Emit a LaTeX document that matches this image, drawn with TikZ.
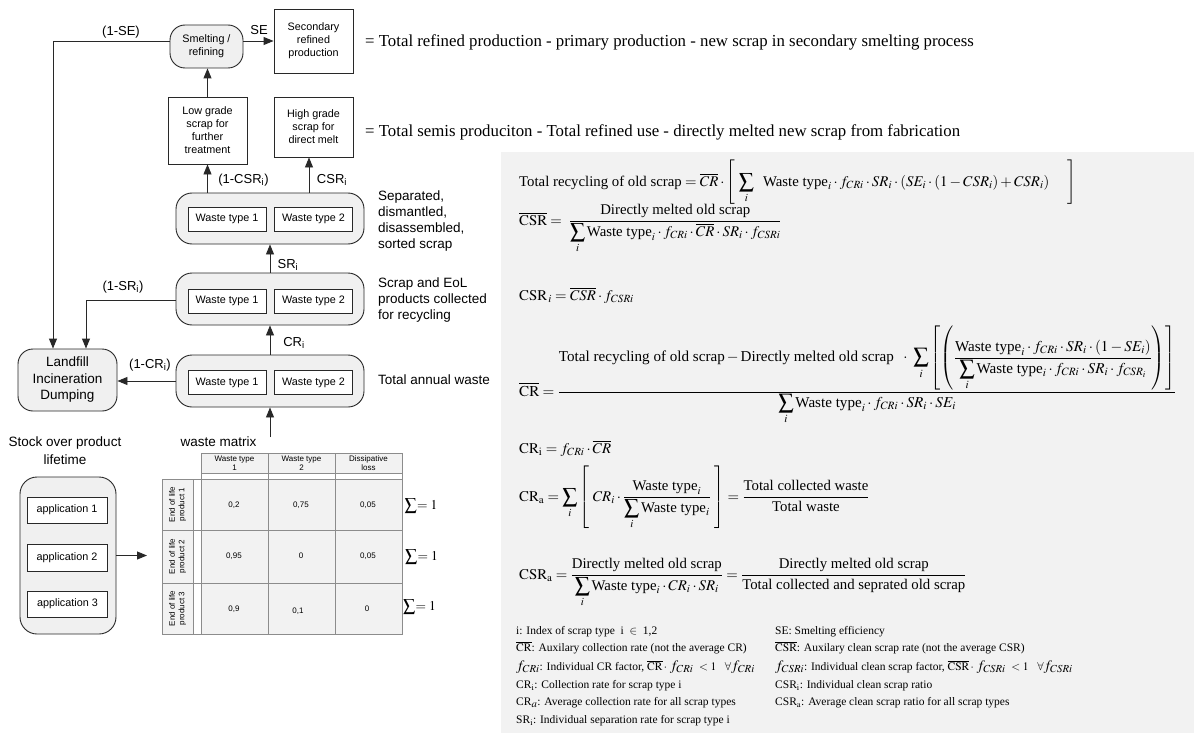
\documentclass[tikz,border=0pt]{standalone}
\usepackage{amsmath}
\usepackage{mathptmx}
\usepackage{fontspec}
\setmainfont{Liberation Serif}
\setsansfont{Liberation Sans}
\usetikzlibrary{arrows.meta}
\definecolor{panel}{RGB}{242,242,242}
\definecolor{boxfill}{RGB}{240,240,240}
\definecolor{edge}{RGB}{40,40,40}
\definecolor{gridc}{RGB}{140,140,140}
\definecolor{cellf}{RGB}{242,242,242}
\newcommand{\lgm}[1]{{\fontsize{14.5}{15}\selectfont$#1$}}
\newcommand{\sumone}{{\fontsize{12}{14}\selectfont$\displaystyle\sum$}{\fontsize{13.5}{15}\selectfont$=1$}}
\tikzset{
  base/.style={draw=edge, line width=0.9pt, inner sep=0pt, align=center, font=\sffamily\fontsize{10.8}{13}\selectfont},
  rbox/.style={base, fill=boxfill, rounded corners=15pt},
  sbox/.style={base, fill=white},
  wbox/.style={base, fill=white, minimum width=78pt, minimum height=24pt},
  arr/.style={draw=edge, line width=0.9pt, -{Triangle[length=10pt,width=8pt]}},
  lbl/.style={font=\sffamily\fontsize{13}{15}\selectfont, inner sep=0pt, align=center},
  side/.style={font=\sffamily\fontsize{13.5}{16}\selectfont, align=left, anchor=west, inner sep=0pt},
  mcell/.style={draw=gridc, line width=1pt, fill=cellf},
  mwhite/.style={draw=gridc, line width=1pt, fill=white},
  mtext/.style={font=\sffamily\fontsize{8}{9.5}\selectfont, align=center, inner sep=0pt},
  sumlbl/.style={inner sep=0pt},
  eq/.style={anchor=base west, inner sep=0pt, font=\fontsize{14.8}{17}\selectfont},
  leg/.style={anchor=base west, inner sep=0pt, font=\fontsize{11.5}{13}\selectfont},
  toptxt/.style={anchor=west, inner sep=0pt, font=\fontsize{16.8}{19}\selectfont}
}
\begin{document}
\begin{tikzpicture}[x=1pt,y=-1pt]
\useasboundingbox (0,0) rectangle (1194,733);
\fill[white] (0,0) rectangle (1194,733);
\fill[panel] (501,152) rectangle (1194,733);

% ---- flow chart ----
\node[rbox, minimum width=73pt, minimum height=43pt] (smelt) at (206.5,46.5) {Smelting /\\refining};
\node[sbox, minimum width=79pt, minimum height=64pt] (secprod) at (313.5,41) {Secondary\\refined\\production};
\node[sbox, minimum width=79pt, minimum height=67pt] (low) at (207.5,130.5) {Low grade\\scrap for\\further\\treatment};
\node[sbox, minimum width=79pt, minimum height=60pt] (high) at (313.5,127) {High grade\\scrap for\\direct melt};

\node[rbox, rounded corners=16pt, minimum width=188pt, minimum height=51pt] (sep) at (270,218.5) {};
\node[wbox] (sep1) at (227,219) {Waste type 1};
\node[wbox] (sep2) at (313.5,219) {Waste type 2};

\node[rbox, rounded corners=16pt, minimum width=188pt, minimum height=52pt] (col) at (270,299) {};
\node[wbox] (col1) at (227,301) {Waste type 1};
\node[wbox] (col2) at (313.5,301) {Waste type 2};

\node[rbox, rounded corners=16pt, minimum width=188pt, minimum height=52pt] (tot) at (270,381) {};
\node[wbox] (tot1) at (227,382.5) {Waste type 1};
\node[wbox] (tot2) at (313.5,382.5) {Waste type 2};

\node[rbox, minimum width=99pt, minimum height=62pt, font=\sffamily\fontsize{13.5}{16.5}\selectfont] (land) at (67.5,380) {Landfill\\Incineration\\Dumping};

\node[rbox, rounded corners=17pt, minimum width=96pt, minimum height=157pt] (stock) at (68,555.5) {};
\node[sbox, minimum width=80pt, minimum height=26pt] (app1) at (67,510) {application 1};
\node[sbox, minimum width=80pt, minimum height=27pt] (app2) at (67,557.5) {application 2};
\node[sbox, minimum width=80pt, minimum height=26pt] (app3) at (67.5,604) {application 3};

% arrows
\coordinate (c1) at (53,41);
\draw[arr] (smelt.west |- c1) -- (c1) -- (c1 |- land.north);
\coordinate (c2) at (86,300);
\draw[arr] (col.west |- c2) -- (c2) -- (c2 |- land.north);
\draw[arr] (tot.west) -- (tot.west -| land.east);
\draw[arr] (smelt.east |- secprod.west) -- (secprod.west);
\draw[arr] (low.north) -- (low.north |- smelt.south);
\draw[arr] (low.south |- sep.north) -- (low.south);
\coordinate (hs) at ([xshift=-4.5pt]high.south);
\draw[arr] (hs |- sep.north) -- (hs);
\draw[arr] (col.north) -- (sep.south);
\draw[arr] (tot.north) -- (col.south);
\coordinate (matin) at (270,437);
\draw[arr] (matin) -- (tot.south);
\coordinate (matL) at (147,555);
\draw[arr] (stock.east) -- (stock.east -| matL);

% labels
\node[lbl] (l1se) at (121,32) {(1-SE)};
\node[lbl] (lse) at (259,30) {SE};
\node[lbl] (lcsr1) at (243.5,180) {(1-CSR\textsubscript{i})};
\node[lbl] (lcsr) at (332,180) {CSR\textsubscript{i}};
\node[lbl] (lsr) at (288,265) {SR\textsubscript{i}};
\node[lbl] (l1sr) at (123,287) {(1-SR\textsubscript{i})};
\node[lbl] (lcr) at (294,343) {CR\textsubscript{i}};
\node[lbl] (l1cr) at (150,365) {(1-CR\textsubscript{i})};

\node[side] (sd1) at (378,221) {Separated,\\dismantled,\\disassembled,\\sorted scrap};
\node[side] (sd2) at (378,300) {Scrap and EoL\\products collected\\for recycling};
\node[side] (sd3) at (378,380) {Total annual waste};

\node[lbl, font=\sffamily\fontsize{13.5}{18}\selectfont] (stocklbl) at (65,451) {Stock over product\\lifetime};
\node[lbl, font=\sffamily\fontsize{13.5}{16}\selectfont] (wm) at (218.5,442) {waste matrix};

\node[toptxt] (t1) at (365,42) {= Total refined production - primary production - new scrap in secondary smelting process};
\node[toptxt] (t2) at (365,132) {= Total semis produciton - Total refined use - directly melted new scrap from fabrication};

% ---- waste matrix ----
\draw[mcell] (201,453) rectangle (268,473);
\draw[mcell] (268,453) rectangle (335,473);
\draw[mcell] (335,453) rectangle (402,473);
\draw[mwhite] (201,473) rectangle (268,479);
\draw[mwhite] (268,473) rectangle (335,479);
\draw[mwhite] (335,473) rectangle (402,479);
\foreach \ya/\yb in {479/530,530/583,583/634}{
  \draw[mcell] (162,\ya) rectangle (193,\yb);
  \draw[mwhite] (193,\ya) rectangle (201,\yb);
  \draw[mcell] (201,\ya) rectangle (268,\yb);
  \draw[mcell] (268,\ya) rectangle (335,\yb);
  \draw[mcell] (335,\ya) rectangle (402,\yb);
}
\node[mtext] (mh1) at (234.5,463) {Waste type\\1};
\node[mtext] (mh2) at (301.5,463) {Waste type\\2};
\node[mtext] (mh3) at (368.5,463) {Dissipative\\loss};
\node[mtext, rotate=90] (mr1) at (177.5,504.5) {End of life\\product 1};
\node[mtext, rotate=90] (mr2) at (177.5,556.5) {End of life\\product 2};
\node[mtext, rotate=90] (mr3) at (177.5,608.5) {End of life\\product 3};
\node[mtext] (m11) at (234,505) {0,2};
\node[mtext] (m12) at (301,505) {0,75};
\node[mtext] (m13) at (368,505) {0,05};
\node[mtext] (m21) at (234,556) {0,95};
\node[mtext] (m22) at (301,556) {0};
\node[mtext] (m23) at (368,556) {0,05};
\node[mtext] (m31) at (234,609) {0,9};
\node[mtext] (m32) at (298,611) {0,1};
\node[mtext] (m33) at (367,609) {0};
\node[sumlbl] (sum1) at (421,506) {\sumone};
\node[sumlbl] (sum2) at (421.5,557) {\sumone};
\node[sumlbl] (sum3) at (419.5,607) {\sumone};

% ---- formulas ----
\node[eq] (f1) at (519,186) {$\displaystyle \text{Total recycling of old scrap} = \overline{CR}\cdot\left[\ \sum_i \ \ \text{Waste type}_i\cdot f_{CRi}\cdot SR_i\cdot(SE_i\cdot(1-CSR_i)+CSR_i)\quad\ \right]$};
\node[eq] (f2) at (519,225) {$\displaystyle \overline{\mathrm{CSR}}= \ \dfrac{\text{Directly melted old scrap}}{\displaystyle\sum_i \text{Waste type}_i\cdot f_{CRi}\cdot\overline{CR}\cdot SR_i\cdot f_{CSRi}}$};
\node[eq] (f3) at (519,300) {$\displaystyle \mathrm{CSR}_{\,i} = \overline{CSR}\cdot f_{CSRi}$};
\node[eq, font=\fontsize{15.1}{17}\selectfont] (f4) at (519,396) {$\displaystyle \overline{\mathrm{CR}} = \dfrac{\displaystyle\text{Total recycling of old scrap} - \text{Directly melted old scrap}\ \ \cdot\ \sum_i\left[\left(\dfrac{\text{Waste type}_i\cdot f_{CRi}\cdot SR_i\cdot(1-SE_i)}{\displaystyle\sum_i\text{Waste type}_i\cdot f_{CRi}\cdot SR_i\cdot f_{CSR_i}}\right)\right]}{\displaystyle\sum_i \text{Waste type}_i\cdot f_{CRi}\cdot SR_i\cdot SE_i}$};
\node[eq] (f5) at (519,453) {$\displaystyle \mathrm{CR}_{\mathrm{i}} = f_{CRi}\cdot\overline{CR}$};
\node[eq] (f6) at (519,501) {$\displaystyle \mathrm{CR}_{\mathrm{a}} = \sum_i\left[\ CR_i\cdot\dfrac{\text{Waste type}_i}{\displaystyle\sum_i\text{Waste type}_i}\ \right] = \dfrac{\text{Total collected waste}}{\text{Total waste}}$};
\node[eq] (f7) at (519,579) {$\displaystyle \mathrm{CSR}_{\mathrm{a}} = \dfrac{\text{Directly melted old scrap}}{\displaystyle\sum_i \text{Waste type}_i\cdot CR_i\cdot SR_i} = \dfrac{\text{Directly melted old scrap}}{\text{Total collected and seprated old scrap}}$};

% ---- legend ----
\node[leg] (g1) at (516,634.5) {i: Index of scrap type\ \ i\ \ $\in$\ \ 1,2};
\node[leg] (g2) at (516,651.5) {$\overline{\mathrm{CR}}$: Auxilary collection rate (not the average CR)};
\node[leg] (g3) at (516,670.5) {\lgm{f_{CRi}}: Individual CR factor, $\overline{\mathrm{CR}}\,\cdot$ \lgm{f_{CRi}}\ \ $<1$\ \ \ $\forall$\lgm{f_{CRi}}};
\node[leg] (g4) at (516,688.5) {CR$_{\mathrm{i}}$: Collection rate for scrap type i};
\node[leg] (g5) at (516,705.5) {CR\lgm{_{a}}: Average collection rate for all scrap types};
\node[leg] (g6) at (516,723.5) {SR$_{\mathrm{i}}$: Individual separation rate for scrap type i};
\node[leg] (h1) at (775,634.5) {SE: Smelting efficiency};
\node[leg] (h2) at (775,651.5) {$\overline{\mathrm{CSR}}$: Auxilary clean scrap rate (not the average CSR)};
\node[leg] (h3) at (775,670.5) {\lgm{f_{CSRi}}: Individual clean scrap factor, $\overline{\mathrm{CSR}}\,\cdot$ \lgm{f_{CSRi}}\ \ $<1$\ \ \ $\forall$\lgm{f_{CSRi}}};
\node[leg] (h4) at (775,688.5) {CSR$_{\mathrm{i}}$: Individual clean scrap ratio};
\node[leg] (h5) at (775,705.5) {CSR$_{\mathrm{a}}$: Average clean scrap ratio for all scrap types};
\end{tikzpicture}
\end{document}
